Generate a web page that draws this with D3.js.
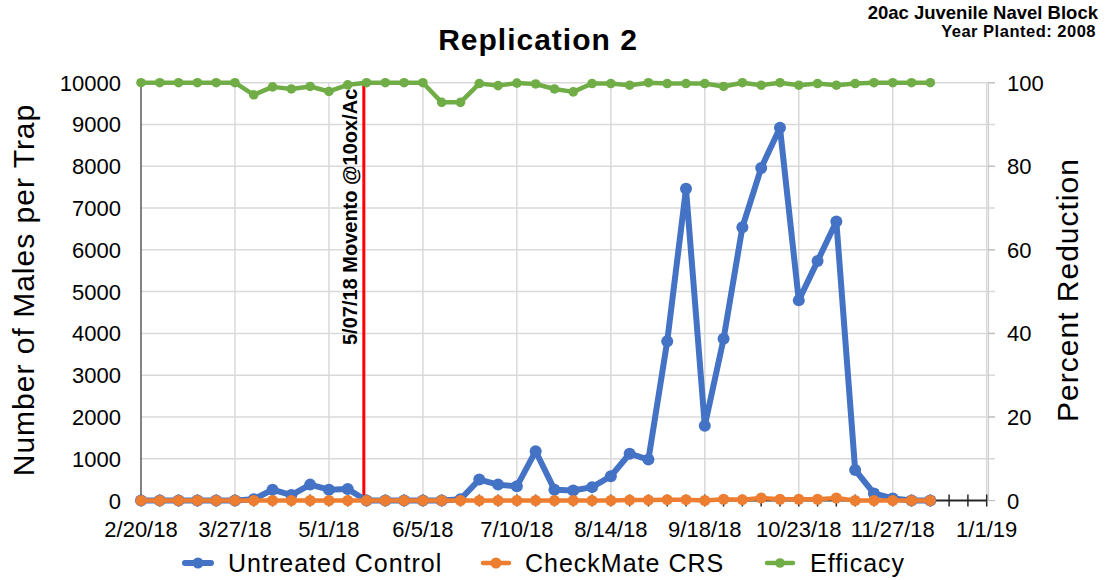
<!DOCTYPE html>
<html>
<head>
<meta charset="utf-8">
<script src="https://cdn.jsdelivr.net/npm/d3@7"></script>
<style>
  html, body { margin: 0; padding: 0; background: #fff; }
  svg { display: block; font-family: "Liberation Sans", Arial, Helvetica, sans-serif; }
</style>
</head>
<body>
<svg id="chart" width="1105" height="580"></svg>
<script>
// ---- data ----
const dates = ["2/20/18","2/27/18","3/6/18","3/13/18","3/20/18","3/27/18","4/3/18","4/10/18","4/17/18","4/24/18","5/1/18","5/8/18","5/15/18","5/22/18","5/29/18","6/5/18","6/12/18","6/19/18","6/26/18","7/3/18","7/10/18","7/17/18","7/24/18","7/31/18","8/7/18","8/14/18","8/21/18","8/28/18","9/4/18","9/11/18","9/18/18","9/25/18","10/2/18","10/9/18","10/16/18","10/23/18","10/30/18","11/6/18","11/13/18","11/20/18","11/27/18","12/4/18","12/11/18"];
const untreated = [0,0,0,0,0,0,30,260,130,380,260,275,0,0,0,0,0,30,500,380,340,1180,260,240,320,580,1120,980,3810,7460,1790,3870,6540,7960,8920,4790,5730,6680,730,170,50,0,0];
const checkmate = [0,0,0,0,0,0,0,0,0,0,0,0,0,0,0,0,0,0,0,0,0,0,0,0,0,0,10,10,20,20,0,30,20,60,30,30,30,60,0,0,0,0,0];
const efficacy = [100,100,100,100,100,100,97.1,99.0,98.5,99.1,97.9,99.5,100,100,100,100,95.3,95.3,99.8,99.3,99.9,99.7,98.5,97.8,99.8,99.8,99.4,100,99.8,99.8,99.8,99.1,100,99.4,100,99.4,99.8,99.4,99.8,100,100,100,100];
const xTickLabels = ["2/20/18","3/27/18","5/1/18","6/5/18","7/10/18","8/14/18","9/18/18","10/23/18","11/27/18","1/1/19"];
const leftTicks = [0,1000,2000,3000,4000,5000,6000,7000,8000,9000,10000];
const rightTicks = [0,20,40,60,80,100];
const seriesNames = ["Untreated Control","CheckMate CRS","Efficacy"];
const seriesColors = ["#4472C4","#ED7D31","#70AD47"];
const markerDate = "5/14/18";
const markerLabel = "5/07/18 Movento @10ox/Ac";
const title = "Replication 2";
const subtitle1 = "20ac Juvenile Navel Block";
const subtitle2 = "Year Planted: 2008";

// ---- scales ----
const parse = d3.timeParse("%m/%d/%y");
const svg = d3.select("#chart");
const x = d3.scaleTime().domain([parse("2/20/18"), parse("1/1/19")]).range([141, 986.7]);
const y = d3.scaleLinear().domain([0, 10000]).range([500.5, 82.7]);
const y2 = d3.scaleLinear().domain([0, 100]).range([500.5, 82.7]);
const X0 = 141, X1 = 986.7;

// ---- gridlines ----
const grid = svg.append("g");
grid.selectAll("line.h").data(leftTicks.slice(1)).join("line")
  .attr("x1", X0).attr("x2", 995).attr("y1", d => y(d)).attr("y2", d => y(d))
  .attr("stroke", "#d9d9d9").attr("stroke-width", 1.5);
grid.selectAll("line.v").data(xTickLabels.slice(1)).join("line")
  .attr("x1", d => x(parse(d))).attr("x2", d => x(parse(d)))
  .attr("y1", y(10000)).attr("y2", y(0))
  .attr("stroke", "#d9d9d9").attr("stroke-width", 1.5);

// right axis line + ticks
svg.append("line").attr("x1", 988.5).attr("x2", 988.5).attr("y1", y2(100)).attr("y2", y2(0))
  .attr("stroke", "#d0d0d0").attr("stroke-width", 1.2);
svg.append("g").selectAll("line").data(rightTicks).join("line")
  .attr("x1", 988).attr("x2", 995).attr("y1", d => y2(d)).attr("y2", d => y2(d))
  .attr("stroke", "#bfbfbf").attr("stroke-width", 1.2);

// left axis line
svg.append("line").attr("x1", X0).attr("x2", X0).attr("y1", y(10000)).attr("y2", y(0))
  .attr("stroke", "#595959").attr("stroke-width", 1.5);

// x axis line + weekly ticks
const weekly = d3.timeDay.every(7).range ? d3.timeWeek : null;
const tickDates = d3.range(0, 316, 7).map(k => d3.timeDay.offset(parse("2/20/18"), k));
svg.append("line").attr("x1", X0).attr("x2", X1).attr("y1", y(0)).attr("y2", y(0))
  .attr("stroke", "#262626").attr("stroke-width", 2);
svg.append("g").selectAll("line").data(tickDates).join("line")
  .attr("x1", d => x(d)).attr("x2", d => x(d)).attr("y1", y(0) - 6).attr("y2", y(0) + 6)
  .attr("stroke", "#262626").attr("stroke-width", 1.5);

// ---- tick labels ----
svg.append("g").selectAll("text").data(leftTicks).join("text")
  .attr("x", 121).attr("y", d => y(d) + 8)
  .attr("text-anchor", "end").attr("font-size", 22).attr("fill", "#000")
  .text(d => d);
svg.append("g").selectAll("text").data(rightTicks).join("text")
  .attr("x", 1007).attr("y", d => y2(d) + 8)
  .attr("text-anchor", "start").attr("font-size", 22).attr("fill", "#000")
  .text(d => d);
svg.append("g").selectAll("text").data(xTickLabels).join("text")
  .attr("x", d => x(parse(d))).attr("y", 537)
  .attr("text-anchor", "middle").attr("font-size", 22).attr("fill", "#000")
  .text(d => d);

// ---- marker line ----
const mx = x(parse(markerDate));
svg.append("line").attr("x1", mx).attr("x2", mx).attr("y1", y(10000) - 1).attr("y2", y(0))
  .attr("stroke", "#FF0000").attr("stroke-width", 3);
svg.append("text")
  .attr("transform", `translate(${mx - 7},345) rotate(-90)`)
  .attr("font-size", 20).attr("font-weight", "bold").attr("fill", "#000")
  .text(markerLabel);

// ---- series ----
function drawSeries(values, scale, color, lw, r) {
  const pts = values.map((v, i) => [x(parse(dates[i])), scale(v)]);
  svg.append("path").attr("d", d3.line()(pts))
    .attr("fill", "none").attr("stroke", color).attr("stroke-width", lw)
    .attr("stroke-linejoin", "round").attr("stroke-linecap", "round");
  svg.append("g").selectAll("circle").data(pts).join("circle")
    .attr("cx", d => d[0]).attr("cy", d => d[1]).attr("r", r).attr("fill", color);
}
drawSeries(untreated, y, seriesColors[0], 6, 6);
drawSeries(checkmate, y, seriesColors[1], 4.5, 5.5);
drawSeries(efficacy, y2, seriesColors[2], 4.5, 4.8);

// ---- titles ----
svg.append("text").attr("x", 538).attr("y", 50).attr("text-anchor", "middle")
  .attr("font-size", 30).attr("font-weight", "bold").attr("letter-spacing", 1)
  .text(title);
svg.append("text").attr("x", 1098).attr("y", 19).attr("text-anchor", "end")
  .attr("font-size", 18.5).attr("font-weight", "bold")
  .text(subtitle1);
svg.append("text").attr("x", 1096).attr("y", 37).attr("text-anchor", "end")
  .attr("font-size", 16.5).attr("font-weight", "bold").attr("letter-spacing", 0.5)
  .text(subtitle2);
svg.append("text").attr("transform", "translate(34,290) rotate(-90)")
  .attr("text-anchor", "middle").attr("font-size", 30).attr("letter-spacing", 1)
  .text("Number of Males per Trap");
svg.append("text").attr("transform", "translate(1078,290) rotate(-90)")
  .attr("text-anchor", "middle").attr("font-size", 30).attr("letter-spacing", 1)
  .text("Percent Reduction");

// ---- legend ----
const legendX = [{m: 198, t: 228}, {m: 496, t: 525}, {m: 780, t: 810}];
const lg = svg.append("g");
seriesNames.forEach((name, i) => {
  const p = legendX[i];
  lg.append("line").attr("x1", p.m - 13).attr("x2", p.m + 13).attr("y1", 563).attr("y2", 563)
    .attr("stroke", seriesColors[i]).attr("stroke-width", i === 0 ? 6 : 4.5).attr("stroke-linecap", "round");
  lg.append("circle").attr("cx", p.m).attr("cy", 563).attr("r", i === 2 ? 4.8 : 5.5).attr("fill", seriesColors[i]);
  lg.append("text").attr("x", p.t).attr("y", 572).attr("font-size", 25).attr("letter-spacing", 1)
    .text(name);
});
</script>
</body>
</html>
